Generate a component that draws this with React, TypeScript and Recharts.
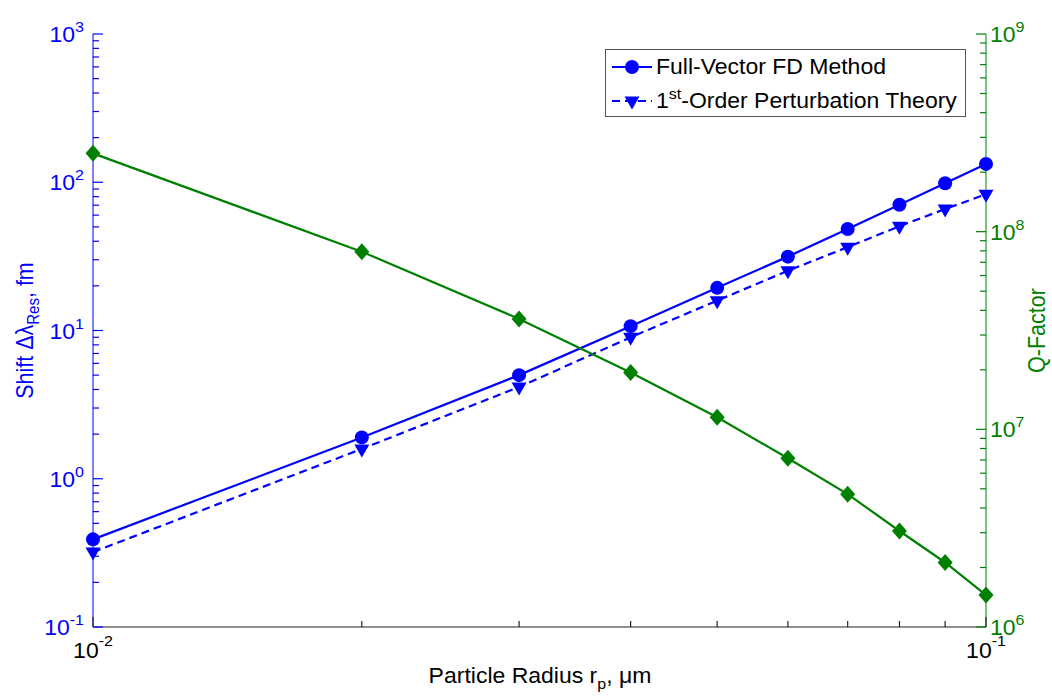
import React from "react";
import { LineChart, Line, XAxis, YAxis, Legend } from "recharts";

// particle radius (um), log x axis
const radius = [0.01, 0.02, 0.03, 0.04, 0.05, 0.06, 0.07, 0.08, 0.09, 0.1];
// resonance shift (fm), left axis
const fdShift = [0.39, 1.9, 5.0, 10.7, 19.4, 31.5, 48.4, 70.5, 98.4, 133];
const perturbShift = [0.32, 1.59, 4.16, 9.0, 15.9, 25.3, 36.5, 50.5, 66.0, 82.9];
// quality factor, right axis
const qFactor = [2.49e8, 7.92e7, 3.62e7, 1.94e7, 1.15e7, 7.14e6, 4.7e6, 3.06e6, 2.12e6, 1.45e6];

const xMajor = [0.01, 0.1];
const leftMajor = [0.1, 1, 10, 100, 1000];
const rightMajor = [1e6, 1e7, 1e8, 1e9];
const legendOrder = ["fd", "pt"];

const BLUE = "#0000ff";
const GREEN = "#008000";
const FONT = '"Liberation Sans", Arial, Helvetica, sans-serif';
const SX = 1.07;
const FS = 21.5;

const data = radius.map((r, i) => ({
  r,
  fd: fdShift[i],
  pt: perturbShift[i],
  q: qFactor[i],
}));

// majors plus 2..9 minors in each decade
function logTicks(majors: number[]) {
  const out: number[] = [];
  majors.forEach((m, i) => {
    out.push(m);
    if (i < majors.length - 1) {
      for (let k = 2; k <= 9; k++) out.push(+(m * k).toPrecision(6));
    }
  });
  return out;
}
const xTicks = logTicks(xMajor);
const leftTicks = logTicks(leftMajor);
const rightTicks = logTicks(rightMajor);

const isMajor = (v: number, majors: number[]) =>
  majors.some((m) => Math.abs(m - v) / m < 1e-6);

function Pow({ x, y, exp, anchor, fill, raise }: any) {
  return (
    <text
      transform={`translate(${x},${y}) scale(${SX},1)`}
      textAnchor={anchor}
      fill={fill}
      fontFamily={FONT}
      fontSize={FS}
    >
      <tspan>10</tspan>
      <tspan dy={-raise} fontSize={15}>
        {exp}
      </tspan>
    </text>
  );
}

function BottomTick({ x, y, payload }: any) {
  const major = isMajor(payload.value, xMajor);
  const exp = Math.round(Math.log10(payload.value));
  return (
    <g>
      <line x1={x} y1={y} x2={x} y2={y - (major ? 10 : 6)} stroke="#222" strokeWidth={1.2} />
      {major && <Pow x={x} y={y + 31} exp={exp} anchor="middle" fill="#000" raise={12} />}
    </g>
  );
}

function TopTick({ x, y, payload }: any) {
  const major = isMajor(payload.value, xMajor);
  return <line x1={x} y1={y} x2={x} y2={y + (major ? 10 : 6)} stroke="#222" strokeWidth={1.2} />;
}

function LeftTick({ x, y, payload }: any) {
  const major = isMajor(payload.value, leftMajor);
  const exp = Math.round(Math.log10(payload.value));
  return (
    <g>
      <line x1={x} y1={y} x2={x + (major ? 10 : 6)} y2={y} stroke={BLUE} strokeWidth={1.2} />
      {major && <Pow x={x - 9} y={y + 8} exp={exp} anchor="end" fill={BLUE} raise={10} />}
    </g>
  );
}

function RightTick({ x, y, payload }: any) {
  const major = isMajor(payload.value, rightMajor);
  const exp = Math.round(Math.log10(payload.value));
  return (
    <g>
      <line x1={x} y1={y} x2={x - (major ? 10 : 6)} y2={y} stroke={GREEN} strokeWidth={1.2} />
      {major && <Pow x={x + 4} y={y + 8} exp={exp} anchor="start" fill={GREEN} raise={10} />}
    </g>
  );
}

const CircleDot = (p: any) =>
  p.cx == null ? null : <circle key={`c${p.index}`} cx={p.cx} cy={p.cy} r={7} fill={BLUE} />;

const TriDot = (p: any) =>
  p.cx == null ? null : (
    <path
      key={`t${p.index}`}
      d={`M${p.cx - 7.5},${p.cy - 4.5} L${p.cx + 7.5},${p.cy - 4.5} L${p.cx},${p.cy + 8.5} Z`}
      fill={BLUE}
    />
  );

const DiamondDot = (p: any) =>
  p.cx == null ? null : (
    <path
      key={`d${p.index}`}
      d={`M${p.cx},${p.cy - 8.5} L${p.cx + 7.5},${p.cy} L${p.cx},${p.cy + 8.5} L${p.cx - 7.5},${p.cy} Z`}
      fill={GREEN}
    />
  );

function LegendBox({ payload }: any) {
  const items = legendOrder
    .map((k) => (payload || []).find((e: any) => e.dataKey === k))
    .filter(Boolean);
  return (
    <div
      style={{
        width: 361,
        height: 68,
        boxSizing: "border-box",
        border: "1px solid #555",
        background: "#fff",
      }}
    >
      <svg width={359} height={66} style={{ display: "block" }}>
        {items.map((e: any, i: number) => {
          const cy = 17 + i * 34;
          const dashed = e.dataKey === "pt";
          const label: string = e.value;
          return (
            <g key={e.dataKey}>
              <line
                x1={6}
                y1={cy}
                x2={46}
                y2={cy}
                stroke={BLUE}
                strokeWidth={2.2}
                strokeDasharray={dashed ? "8 5" : undefined}
              />
              {dashed ? TriDot({ cx: 26, cy, index: 99 }) : CircleDot({ cx: 26, cy, index: 99 })}
              <text
                transform={`translate(50,${cy + 7}) scale(${SX},1)`}
                fontFamily={FONT}
                fontSize={FS}
                fill="#000"
              >
                {label.startsWith("1st") ? (
                  <>
                    <tspan>1</tspan>
                    <tspan dy={-9} fontSize={15}>
                      st
                    </tspan>
                    <tspan dy={9}>{label.slice(3)}</tspan>
                  </>
                ) : (
                  label
                )}
              </text>
            </g>
          );
        })}
      </svg>
    </div>
  );
}

export default function App() {
  return (
    <div style={{ position: "absolute", left: 0, top: 0, background: "#fff" }}>
      <LineChart
        width={1052}
        height={700}
        data={data}
        margin={{ top: 34, right: 0, bottom: 0, left: 0 }}
      >
        <XAxis
          xAxisId="x"
          dataKey="r"
          type="number"
          scale="log"
          domain={[0.01, 0.1]}
          ticks={xTicks}
          interval={0}
          tick={<BottomTick />}
          tickSize={0}
          tickMargin={0}
          tickLine={false}
          axisLine={{ stroke: "#222" }}
          height={73}
          label={{
            content: () => (
              <text
                transform={`translate(540,683) scale(${SX},1)`}
                textAnchor="middle"
                fontFamily={FONT}
                fontSize={FS}
                fill="#000"
              >
                <tspan>Particle Radius r</tspan>
                <tspan dy={6} fontSize={15}>p</tspan>
                <tspan dy={-6}>, μm</tspan>
              </text>
            ),
          }}
        />
        <XAxis
          xAxisId="top"
          orientation="top"
          dataKey="r"
          type="number"
          scale="log"
          domain={[0.01, 0.1]}
          ticks={xTicks}
          interval={0}
          tick={<TopTick />}
          tickSize={0}
          tickMargin={0}
          tickLine={false}
          axisLine={{ stroke: "#222" }}
          height={0}
        />
        <YAxis
          yAxisId="left"
          type="number"
          scale="log"
          domain={[0.1, 1000]}
          ticks={leftTicks}
          interval={0}
          tick={<LeftTick />}
          tickSize={0}
          tickMargin={0}
          tickLine={false}
          axisLine={{ stroke: BLUE }}
          width={93}
          label={{
            content: () => (
              <text
                transform={`translate(33,330.5) scale(${SX},1) rotate(-90)`}
                textAnchor="middle"
                fontFamily={FONT}
                fontSize={FS}
                fill={BLUE}
              >
                <tspan>Shift Δλ</tspan>
                <tspan dy={6} fontSize={15}>Res</tspan>
                <tspan dy={-6}>, fm</tspan>
              </text>
            ),
          }}
        />
        <YAxis
          yAxisId="right"
          orientation="right"
          type="number"
          scale="log"
          domain={[1e6, 1e9]}
          ticks={rightTicks}
          interval={0}
          tick={<RightTick />}
          tickSize={0}
          tickMargin={0}
          tickLine={false}
          axisLine={{ stroke: GREEN }}
          width={66}
          label={{
            content: () => (
              <text
                transform={`translate(1045,330.5) scale(${SX},1) rotate(-90)`}
                textAnchor="middle"
                fontFamily={FONT}
                fontSize={FS}
                fill={GREEN}
              >
                Q-Factor
              </text>
            ),
          }}
        />
        <Legend
          layout="vertical"
          align="center"
          verticalAlign="middle"
          content={<LegendBox />}
          wrapperStyle={{ position: "absolute", left: 605, top: 49, width: 361, height: 68 }}
        />
        <Line
          xAxisId="x"
          yAxisId="left"
          type="linear"
          dataKey="fd"
          name="Full-Vector FD Method"
          stroke={BLUE}
          strokeWidth={2.2}
          dot={CircleDot}
          activeDot={false}
          isAnimationActive={false}
        />
        <Line
          xAxisId="x"
          yAxisId="left"
          type="linear"
          dataKey="pt"
          name="1st-Order Perturbation Theory"
          stroke={BLUE}
          strokeWidth={2.2}
          strokeDasharray="8 5"
          dot={TriDot}
          activeDot={false}
          isAnimationActive={false}
        />
        <Line
          xAxisId="x"
          yAxisId="right"
          type="linear"
          dataKey="q"
          name="Q-Factor"
          stroke={GREEN}
          strokeWidth={2.2}
          dot={DiamondDot}
          activeDot={false}
          legendType="none"
          isAnimationActive={false}
        />
      </LineChart>
    </div>
  );
}
